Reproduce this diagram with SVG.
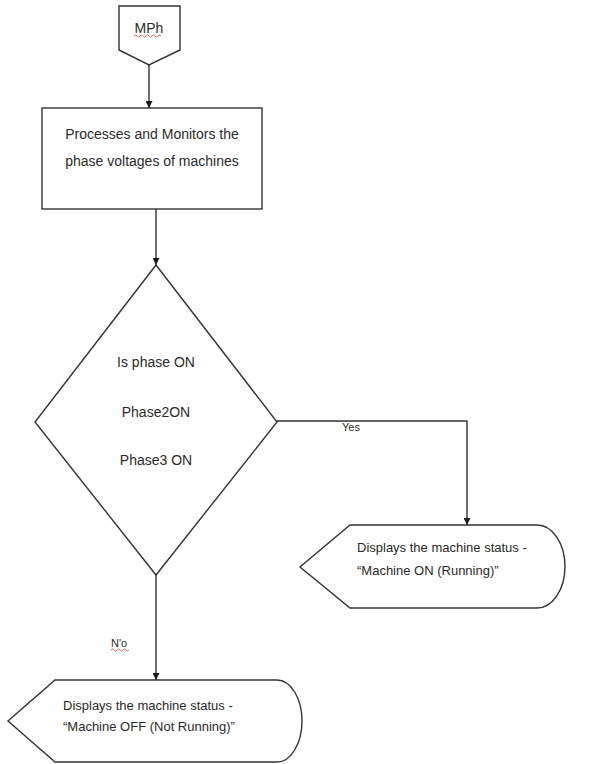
<svg xmlns="http://www.w3.org/2000/svg" width="589" height="764" viewBox="0 0 589 764">
  <style>
    .shape { fill: #ffffff; stroke: #333333; stroke-width: 1.4; }
    .conn { fill: none; stroke: #333333; stroke-width: 1.4; }
    .txt { font-family: "Liberation Sans Narrow", "Liberation Sans", Arial, sans-serif; font-size: 14px; fill: #2a2a2a; }
    .small { font-family: "Liberation Sans Narrow", "Liberation Sans", Arial, sans-serif; font-size: 11px; fill: #2a2a2a; }
    .disp { font-family: "Liberation Sans Narrow", "Liberation Sans", Arial, sans-serif; font-size: 13px; fill: #2a2a2a; }
    .squiggle { fill: none; stroke: #d04040; stroke-width: 0.8; }
  </style>
  <defs>
    <marker id="arrow" viewBox="0 0 10 10" refX="10" refY="5" markerWidth="7" markerHeight="7" markerUnits="userSpaceOnUse" orient="auto">
      <path d="M0,0 L10,5 L0,10 Z" fill="#1a1a1a"/>
    </marker>
  </defs>
  <rect width="589" height="764" fill="#ffffff"/>

  <!-- connectors -->
  <g id="connectors">
    <path class="conn" d="M149,65 L149,108" marker-end="url(#arrow)"/>
    <path class="conn" d="M156,209 L156,265" marker-end="url(#arrow)"/>
    <path class="conn" d="M277,421 L467,421 L467,525" marker-end="url(#arrow)"/>
    <path class="conn" d="M156,575 L156,680" marker-end="url(#arrow)"/>
    <text class="small" x="342" y="431">Yes</text>
    <text class="small" x="111" y="647">N'o</text>
    <path class="squiggle" d="M111,650 q1.5,-2 3,0 t3,0 t3,0 t3,0 t3,0 t3,0"/>
  </g>

  <!-- off-page connector -->
  <g id="mph">
    <path class="shape" d="M119,6 L180,6 L180,50 L149,65 L119,50 Z"/>
    <text class="txt" x="149" y="33" text-anchor="middle">MPh</text>
    <path class="squiggle" d="M134,36 q1.5,-2 3,0 t3,0 t3,0 t3,0 t3,0 t3,0 t3,0 t3,0 t3,0"/>
  </g>

  <!-- process box -->
  <g id="process">
    <rect class="shape" x="42" y="108" width="220" height="101"/>
    <text class="txt" x="152" y="139" text-anchor="middle">Processes and Monitors  the</text>
    <text class="txt" x="152" y="166" text-anchor="middle">phase voltages of machines</text>
  </g>

  <!-- decision -->
  <g id="decision">
    <path class="shape" d="M156,265 L277,422 L156,575 L35,422 Z"/>
    <text class="txt" x="156" y="367" text-anchor="middle">Is phase ON</text>
    <text class="txt" x="156" y="417" text-anchor="middle">Phase2ON</text>
    <text class="txt" x="156" y="465" text-anchor="middle">Phase3 ON</text>
  </g>

  <!-- display: machine on -->
  <g id="display-on">
    <path class="shape" d="M350,525 L537,525 A28,41.5 0 0 1 537,608 L350,608 L300,567 Z"/>
    <text class="disp" x="357" y="552">Displays the machine status -</text>
    <text class="disp" x="357" y="575">“Machine ON (Running)”</text>
  </g>

  <!-- display: machine off -->
  <g id="display-off">
    <path class="shape" d="M55,680 L277,680 A25,41 0 0 1 277,762 L55,762 L8,721 Z"/>
    <text class="disp" x="63" y="710">Displays the machine status -</text>
    <text class="disp" x="63" y="731">“Machine OFF (Not Running)”</text>
  </g>
</svg>
